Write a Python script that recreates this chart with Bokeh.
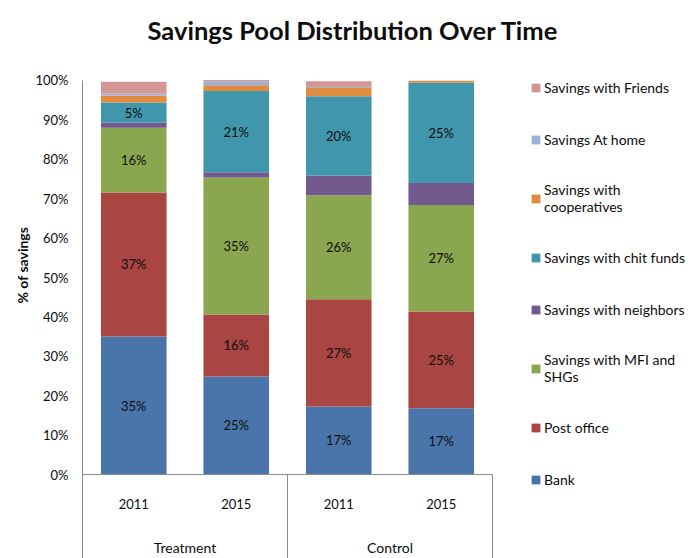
import numpy as np
from bokeh.plotting import figure
from bokeh.models import (ColumnDataSource, Range1d, FixedTicker, PrintfTickFormatter,
                          Legend, LegendItem, Title)
from bokeh.core.properties import value
from bokeh.embed import file_html
from bokeh.resources import INLINE

# ---------------- data ----------------
groups = ["Treatment", "Treatment", "Control", "Control"]
years = ["2011", "2015", "2011", "2015"]

series = ["Bank", "Post office", "Savings with MFI and SHGs", "Savings with neighbors",
          "Savings with chit funds", "Savings with cooperatives", "Savings At home",
          "Savings with Friends"]
legend_labels = ["Bank", "Post office", "Savings with MFI and\nSHGs", "Savings with neighbors",
                 "Savings with chit funds", "Savings with\ncooperatives", "Savings At home",
                 "Savings with Friends"]

bank = [35.0, 24.9, 17.3, 16.8]
post_office = [36.6, 15.7, 27.2, 24.6]
mfi_shg = [16.4, 34.8, 26.4, 27.0]
neighbors = [1.3, 1.3, 5.0, 5.6]
chit_funds = [5.1, 20.6, 20.1, 25.4]
cooperatives = [1.8, 1.5, 2.3, 0.5]
at_home = [0.5, 1.0, 0.3, 0.0]
friends = [3.0, 0.3, 1.2, 0.0]

values = [bank, post_office, mfi_shg, neighbors, chit_funds, cooperatives, at_home, friends]
labelled = [True, True, True, False, True, False, False, False]
colors = ["#4a75ab", "#a94542", "#8aa64f", "#72598e", "#4097ad", "#e08b3f", "#9bb1d8", "#d59696"]

y_ticks = list(range(0, 101, 10))

FONT = "Lato"
TXT = "#0d0d0d"

# ---------------- figure ----------------
n = len(years)
W, H = 691, 558
LEFT, TOP = 82, 50
slot = 102.5                     # pixels per category slot
y_bottom = -21.3
y_top = 107.6                    # a little headroom above 100% (axis line stops at 100)
x_end = (W - LEFT) / slot        # frame extends under the legend area
p = figure(width=W, height=H, output_backend="svg", toolbar_location=None,
           x_range=Range1d(0, x_end), y_range=Range1d(y_bottom, y_top),
           x_axis_location=None, min_border_left=LEFT, min_border_right=0,
           min_border_top=TOP, min_border_bottom=0,
           title="Savings Pool Distribution Over Time")
p.outline_line_color = None
p.grid.visible = False

p.title.align = "left"
p.title.offset = 65
p.title.text_font = FONT
p.title.text_font_size = "25.5px"
p.title.text_font_style = "bold"
p.title.text_color = TXT
p.title.standoff = 12

yax = p.yaxis[0]
yax.bounds = (y_bottom, 100)
yax.ticker = FixedTicker(ticks=y_ticks)
yax.formatter = PrintfTickFormatter(format="%d%%")
yax.major_tick_line_color = None
yax.minor_tick_line_color = None
yax.major_tick_out = 0
yax.major_tick_in = 0
yax.major_label_standoff = 14
yax.axis_line_color = "#8c8c8c"
yax.major_label_text_font = FONT
yax.major_label_text_font_size = "13px"
yax.major_label_text_color = TXT

ylab = Title(text="% of savings", align="left", offset=255, text_font=FONT,
             text_font_size="14px", text_font_style="bold", text_color=TXT, standoff=4)
p.add_layout(ylab, "left")

xs = [i + 0.5 for i in range(n)]
bottom = np.zeros(n)
renderers = []
label_x, label_y, label_t = [], [], []
for vals, col, lab in zip(values, colors, labelled):
    v = np.array(vals, dtype=float)
    top = bottom + v
    src = ColumnDataSource(dict(x=xs, bottom=bottom.copy(), top=top.copy()))
    r = p.vbar(x="x", bottom="bottom", top="top", width=0.64, source=src,
               fill_color=col, line_color=None)
    renderers.append(r)
    if lab:
        for i in range(n):
            label_x.append(xs[i])
            label_y.append((bottom[i] + top[i]) / 2)
            label_t.append(f"{round(v[i])}%")
    bottom = top

p.text(x=label_x, y=label_y, text=label_t, text_align="center", text_baseline="middle",
       text_font=value(FONT), text_font_size="13px", text_color=TXT)

# category axis drawn inside the extended frame
p.segment(x0=[0], y0=[0], x1=[n], y1=[0], line_color="#8c8c8c", line_width=1)
bounds = [0] + [i for i in range(1, n) if groups[i] != groups[i - 1]] + [n]
p.segment(x0=bounds, y0=[0] * len(bounds), x1=bounds, y1=[y_bottom] * len(bounds),
          line_color="#8c8c8c", line_width=1)
p.text(x=xs, y=[-7.36] * n, text=years, text_align="center", text_baseline="middle",
       text_font=value(FONT), text_font_size="13px", text_color=TXT)
gx = [(bounds[k] + bounds[k + 1]) / 2 for k in range(len(bounds) - 1)]
gnames = [groups[b] for b in bounds[:-1]]
p.text(x=gx, y=[-18.4] * len(gx), text=gnames, text_align="center", text_baseline="middle",
       text_font=value(FONT), text_font_size="14px", text_color=TXT)

items = [LegendItem(label=legend_labels[k], renderers=[renderers[k]]) for k in reversed(range(len(series)))]
legend = Legend(items=items, location=(448, 69), margin=0, padding=0, spacing=32,
                glyph_width=11, glyph_height=11, label_height=20, label_standoff=3,
                label_text_font=FONT, label_text_font_size="14px", label_text_color=TXT,
                border_line_color=None, background_fill_alpha=0)
p.add_layout(legend)

open("out.html", "w").write(file_html(p, INLINE))
